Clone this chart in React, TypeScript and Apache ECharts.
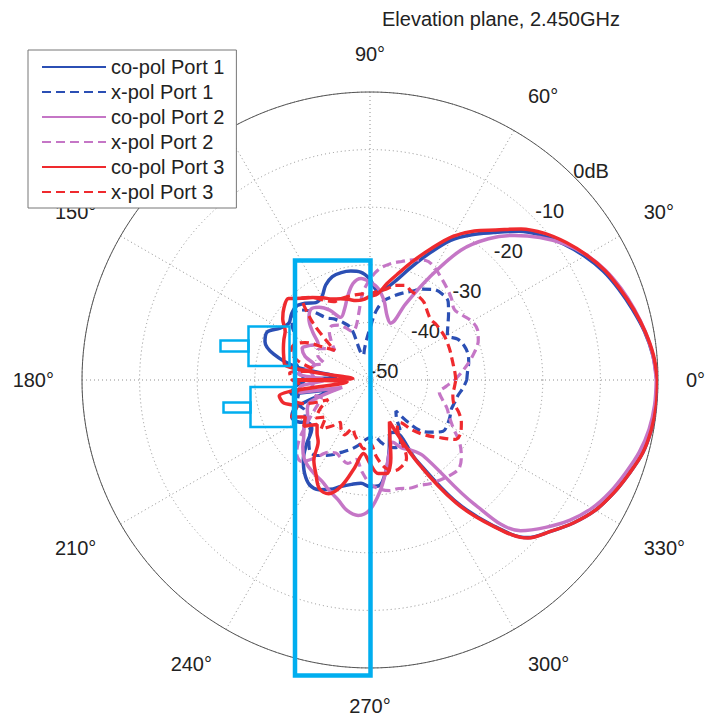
import React, { useEffect, useRef } from "react";
import * as echarts from "echarts";

const TITLE = "Elevation plane, 2.450GHz";
const FONT = "'Liberation Sans', Arial, Helvetica, sans-serif";

const ANGLES = [
  0, 5, 10, 15, 20, 25, 30, 35, 40, 45, 50, 55, 60, 65, 70, 75, 80, 85, 90, 95, 100, 105, 110, 115,
  120, 125, 130, 135, 140, 145, 150, 155, 160, 165, 170, 175, 180, 185, 190, 195, 200, 205, 210, 215,
  220, 225, 230, 235, 240, 245, 250, 255, 260, 265, 270, 275, 280, 285, 290, 295, 300, 305, 310, 315,
  320, 325, 330, 335, 340, 345, 350, 355, 360,
];

const CO_POL_1 = [
  -0.2, -0.7, -1.6, -2.8, -4.0, -5.3, -7.0, -8.9, -11.0, -13.5, -16.6, -19.2, -22.0, -25.8, -29.2, -32.0, -33.8, -34.5, -32.5, -31.2, -30.8, -30.7, -30.9, -31.8,
  -33.3, -33.6, -32.6, -31.9, -32.2, -32.8, -32.0, -30.3, -30.6, -32.7, -37.0, -44.0, -39.0, -37.0, -36.0, -44.0, -36.5, -35.0, -35.5, -37.0,
  -36.8, -34.5, -32.0, -30.2, -29.0, -29.0, -29.8, -30.9, -31.6, -32.0, -31.5, -31.6, -34.0, -37.2, -40.0, -40.0, -34.0, -24.5, -17.2, -11.3,
  -9.1, -6.8, -4.8, -3.4, -2.2, -1.0, -0.4, -0.2, -0.2,
];

const X_POL_1 = [
  -33.2, -33.0, -32.6, -32.4, -32.6, -33.2, -34.5, -33.5, -32.2, -30.8, -30.5, -30.8, -31.8, -33.0, -34.0, -35.0, -36.0, -38.0, -41.0, -43.0, -44.5, -45.5, -40.5, -39.0,
  -37.8, -36.8, -34.5, -32.8, -32.5, -33.5, -35.0, -35.5, -36.0, -36.5, -37.3, -38.0, -38.5, -38.0, -37.5, -37.0, -37.0, -37.5, -37.0, -36.5,
  -36.5, -35.0, -33.8, -34.0, -34.9, -35.8, -36.8, -37.6, -38.5, -39.5, -40.0, -40.0, -39.0, -38.0, -37.5, -37.5, -39.5, -42.0, -43.0, -37.5,
  -35.9, -34.5, -34.5, -34.7, -35.0, -34.8, -34.5, -33.8, -33.2,
];

const CO_POL_2 = [
  -0.3, -0.7, -1.5, -2.5, -3.6, -4.9, -6.6, -8.8, -11.5, -14.5, -18.0, -22.5, -29.5, -35.5, -39.5, -38.5, -36.0, -34.0, -33.0, -32.3, -33.0, -35.0, -37.0, -38.0,
  -36.0, -34.6, -34.0, -35.0, -37.0, -39.0, -38.0, -37.0, -38.0, -40.0, -39.0, -37.5, -42.0, -38.0, -37.5, -45.0, -39.0, -38.0, -37.5, -36.0,
  -35.0, -33.5, -32.2, -31.5, -31.0, -30.5, -29.5, -28.5, -27.0, -26.4, -27.5, -30.5, -34.0, -37.0, -38.5, -37.0, -36.0, -34.0, -22.0, -13.0,
  -10.2, -7.6, -5.5, -4.0, -2.8, -1.6, -0.8, -0.4, -0.3,
];

const X_POL_2 = [
  -35.3, -34.0, -32.6, -31.2, -30.0, -29.4, -29.6, -30.4, -30.9, -30.0, -29.2, -28.4, -27.5, -27.1, -27.8, -28.7, -29.5, -30.6, -32.5, -35.0, -38.5, -40.5, -41.0, -40.0,
  -39.0, -38.5, -39.0, -40.5, -42.0, -40.5, -39.5, -40.0, -41.5, -40.0, -39.5, -40.0, -40.5, -40.0, -39.5, -40.0, -41.0, -40.0, -38.5, -36.5,
  -34.0, -32.0, -31.5, -33.5, -35.5, -36.0, -35.5, -35.0, -36.0, -34.0, -32.0, -31.0, -30.5, -30.5, -30.0, -29.8, -29.2, -28.8, -28.4, -28.2,
  -29.3, -31.0, -33.3, -34.8, -35.8, -37.0, -37.8, -36.8, -35.3,
];

const CO_POL_3 = [
  -0.1, -0.6, -1.5, -2.6, -3.8, -5.0, -6.6, -8.4, -10.4, -12.9, -16.0, -18.4, -21.2, -24.8, -28.0, -30.8, -33.0, -35.0, -35.5, -36.0, -36.0, -35.5, -35.0, -34.5,
  -33.5, -32.5, -31.5, -30.0, -30.5, -31.5, -33.0, -33.5, -34.0, -34.5, -35.0, -47.0, -36.5, -46.0, -34.0, -34.5, -36.5, -35.0, -37.0, -36.0,
  -38.0, -37.0, -36.0, -33.0, -31.2, -29.2, -29.0, -31.0, -34.5, -37.2, -35.5, -33.7, -33.5, -36.0, -40.0, -42.0, -33.5, -24.0, -17.0, -11.2,
  -9.1, -6.8, -4.8, -3.4, -2.2, -1.0, -0.4, -0.1, -0.1,
];

const X_POL_3 = [
  -35.1, -35.2, -35.3, -35.3, -35.2, -35.1, -35.0, -35.0, -35.0, -35.1, -34.5, -33.6, -33.2, -33.0, -32.5, -33.0, -34.0, -34.5, -35.0, -35.0, -35.0, -35.0, -35.0, -35.0,
  -34.0, -32.5, -31.4, -36.0, -42.0, -40.0, -37.0, -35.5, -35.4, -37.0, -40.0, -36.0, -36.5, -38.0, -37.0, -36.5, -38.0, -42.0, -40.0, -38.5,
  -40.0, -38.0, -39.5, -41.0, -40.0, -39.5, -41.0, -40.0, -39.0, -38.0, -39.0, -36.5, -34.5, -33.7, -34.0, -35.0, -40.5, -41.0, -38.7, -36.5,
  -34.5, -32.0, -31.8, -32.5, -33.6, -35.0, -35.4, -35.3, -35.1,
];

const SERIES_NAMES = [
  "co-pol Port 1",
  "x-pol Port 1",
  "co-pol Port 2",
  "x-pol Port 2",
  "co-pol Port 3",
  "x-pol Port 3",
];
const SERIES_VALUES = [CO_POL_1, X_POL_1, CO_POL_2, X_POL_2, CO_POL_3, X_POL_3];
const SERIES_COLORS = ["#2b4fb4", "#2b4fb4", "#c576c6", "#c576c6", "#ef2a2e", "#ef2a2e"];
const SERIES_DASHED = [false, true, false, true, false, true];

const RADIUS_TICKS = [-50, -40, -30, -20, -10, 0];
const RADIUS_TICK_LABELS = ["-50", "-40", "-30", "-20", "-10", "0dB"];
const RADIUS_LABEL_ANGLE = 44;
const HIDDEN_ANGLE_LABELS = [120, 360];

const ANNOTATION_BOXES = [
  { shape: { x: 295, y: 260.5, width: 75.5, height: 415 }, lineWidth: 4.5 },
  { shape: { x: 248.5, y: 326.5, width: 41, height: 39.5 }, lineWidth: 2.5 },
  { shape: { x: 220.5, y: 340.5, width: 28, height: 11 }, lineWidth: 2.5 },
  { shape: { x: 250.5, y: 387, width: 42.5, height: 40 }, lineWidth: 2.5 },
  { shape: { x: 223.5, y: 402.5, width: 27, height: 10 }, lineWidth: 2.5 },
];

export default function App() {
  const ref = useRef<HTMLDivElement>(null);

  useEffect(() => {
    document.body.style.margin = "0";
    const chart = echarts.init(ref.current as HTMLDivElement, null, { renderer: "svg" });

    const lineSeries = SERIES_NAMES.map((name, i) => ({
      name,
      type: "line",
      coordinateSystem: "polar",
      data: ANGLES.map((a, j) => [SERIES_VALUES[i][j], a]),
      showSymbol: false,
      symbol: "none",
      smooth: 0.35,
      z: 3,
      lineStyle: {
        color: SERIES_COLORS[i],
        width: SERIES_DASHED[i] ? 3.2 : 3.5,
        type: SERIES_DASHED[i] ? [9, 5] : "solid",
      },
      itemStyle: { color: SERIES_COLORS[i] },
    }));

    const option: any = {
      animation: false,
      backgroundColor: "#ffffff",
      textStyle: { fontFamily: FONT },
      title: {
        text: TITLE,
        left: 382,
        top: 9,
        padding: 0,
        textStyle: { fontSize: 20, fontWeight: "normal", color: "#222", fontFamily: FONT },
      },
      legend: {
        data: SERIES_NAMES,
        orient: "vertical",
        left: 28,
        top: 50,
        padding: [7, 12, 6, 13],
        itemGap: 5,
        itemWidth: 64,
        itemHeight: 14,
        backgroundColor: "#ffffff",
        borderColor: "#777",
        borderWidth: 1,
        z: 10,
        itemStyle: { opacity: 0 },
        textStyle: { fontSize: 20, lineHeight: 20, color: "#222", fontFamily: FONT },
      },
      polar: { center: [370, 380], radius: 288 },
      angleAxis: {
        type: "value",
        min: 0,
        max: 360,
        interval: 30,
        startAngle: 0,
        clockwise: false,
        axisLine: { show: true, lineStyle: { color: "#555", width: 1 } },
        axisTick: { show: false },
        axisLabel: {
          show: true,
          margin: 28,
          fontSize: 20,
          color: "#222",
          fontFamily: FONT,
          formatter: (v: number) => (HIDDEN_ANGLE_LABELS.includes(v) ? "" : v + "°"),
        },
        splitLine: { show: true, lineStyle: { type: [1, 3], color: "#8f8f8f", width: 1 } },
      },
      radiusAxis: {
        type: "value",
        min: -50,
        max: 0,
        interval: 10,
        axisLine: { show: false },
        axisTick: { show: false },
        axisLabel: { show: false },
        splitLine: { show: true, lineStyle: { type: [1, 3], color: "#8f8f8f", width: 1 } },
      },
      series: lineSeries,
    };

    chart.setOption(option);

    const labelGraphics = RADIUS_TICKS.map((r, i) => {
      const p = chart.convertToPixel({ polarIndex: 0 } as any, [r, RADIUS_LABEL_ANGLE]) as number[];
      return {
        type: "text",
        z: 1,
        x: p[0] + 14,
        y: p[1] - 9,
        style: {
          text: RADIUS_TICK_LABELS[i],
          fill: "#222222",
          fontSize: 20,
          fontFamily: FONT,
          align: "center",
          verticalAlign: "middle",
        },
      };
    });

    const boxGraphics = ANNOTATION_BOXES.map((b) => ({
      type: "rect",
      z: 100,
      shape: b.shape,
      style: { fill: "none", stroke: "#00aeef", lineWidth: b.lineWidth },
    }));

    chart.setOption({ graphic: [...labelGraphics, ...boxGraphics] });

    return () => chart.dispose();
  }, []);

  return <div ref={ref} style={{ width: 721, height: 724 }} />;
}
